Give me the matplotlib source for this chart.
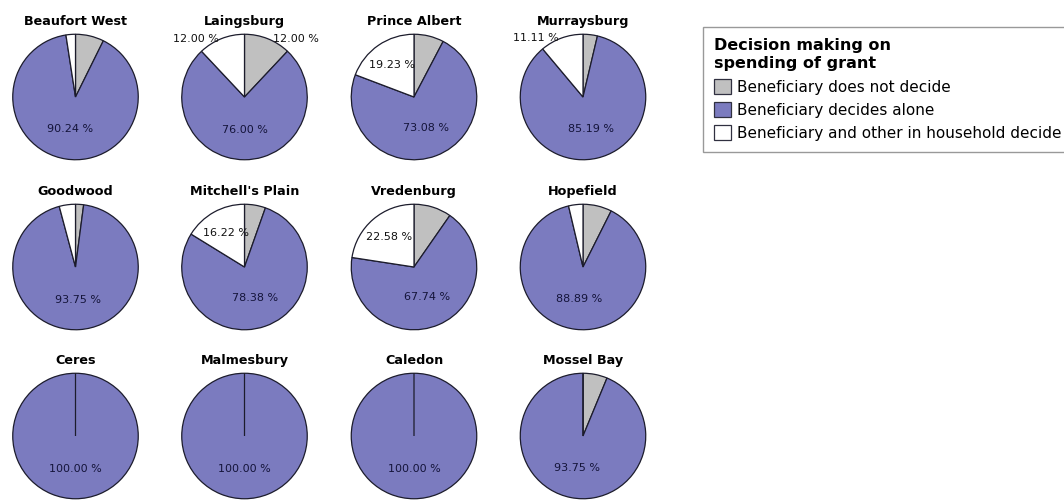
import matplotlib
matplotlib.use("Agg")
import matplotlib.pyplot as plt
from matplotlib.patches import Patch
import numpy as np

# Share of beneficiaries by who decides how the grant is spent, per site (%)
sites = ["Beaufort West", "Laingsburg", "Prince Albert", "Murraysburg",
         "Goodwood", "Mitchell's Plain", "Vredenburg", "Hopefield",
         "Ceres", "Malmesbury", "Caledon", "Mossel Bay"]
does_not_decide = [7.32, 12.00, 7.69, 3.70, 2.08, 5.41, 9.68, 7.41, 0.0, 0.0, 0.0, 6.25]
decides_alone = [90.24, 76.00, 73.08, 85.19, 93.75, 78.38, 67.74, 88.89, 100.0, 100.0, 100.0, 93.75]
with_household = [2.44, 12.00, 19.23, 11.11, 4.17, 16.22, 22.58, 3.70, 0.0, 0.0, 0.0, 0.0]

legend_title = "Decision making on\nspending of grant"
category_labels = ["Beneficiary does not decide",
                   "Beneficiary decides alone",
                   "Beneficiary and other in household decide"]
colors = ["#c0c0c0", "#7b7bbf", "#ffffff"]
edge = "#1c1c2c"

W, H = 1064, 503
fig = plt.figure(figsize=(W / 100, H / 100), dpi=100)
fig.patch.set_facecolor("white")

col_x = [75.5, 244.5, 414, 583]
row_y = [97, 267, 436]
R = 64

for i, name in enumerate(sites):
    cx = col_x[i % 4]
    cy = row_y[i // 4]
    ax = fig.add_axes([(cx - R) / W, 1 - (cy + R) / H, 2 * R / W, 2 * R / H])
    vals = [does_not_decide[i], decides_alone[i], with_household[i]]
    wedges, _ = ax.pie(vals, colors=colors, startangle=90, counterclock=False,
                       radius=1.0, normalize=True,
                       wedgeprops=dict(edgecolor=edge, linewidth=0.9))
    ax.set_xlim(-1.02, 1.02)
    ax.set_ylim(-1.02, 1.02)
    ax.set_aspect("equal")
    ax.axis("off")
    ax.text(0, 1.14, name, ha="center", va="baseline",
            fontsize=9.2, fontweight="bold", color="black")

    # slices of 10 % or more carry their value; small ones sit outside the rim
    for w, v in zip(wedges, vals):
        if v < 10:
            continue
        mid = np.deg2rad((w.theta1 + w.theta2) / 2.0)
        label = f"{v:.2f} %"
        if v >= 50:
            d = 0.52
            ax.text(d * np.cos(mid), d * np.sin(mid), label, ha="center",
                    va="center", fontsize=8, color="#14143a")
        elif v >= 15:
            d = 0.62
            ax.text(d * np.cos(mid), d * np.sin(mid), label, ha="center",
                    va="center", fontsize=8, color="#111111")
        else:
            x, y = np.cos(mid), np.sin(mid)
            ha = "left" if x > 0 else "right"
            ax.text(x * 1.02 + (0.08 if x > 0 else -0.04), y * 1.0, label,
                    ha=ha, va="center", fontsize=8, color="#111111")

handles = [Patch(facecolor=c, edgecolor="#303040", linewidth=0.9) for c in colors]
leg = fig.legend(handles, category_labels, title=legend_title,
                 loc="upper left", bbox_to_anchor=(703 / W, 1 - 27 / H),
                 fontsize=11, title_fontproperties={"weight": "bold", "size": 11.5},
                 alignment="left", frameon=True, fancybox=False,
                 edgecolor="#808080", handlelength=1.1, handleheight=1.1,
                 handletextpad=0.4, labelspacing=0.5, borderpad=0.75,
                 borderaxespad=0)
leg.get_title().set_linespacing(1.25)
leg.get_frame().set_linewidth(1.0)

fig.savefig("out.png", dpi=100, facecolor="white")
